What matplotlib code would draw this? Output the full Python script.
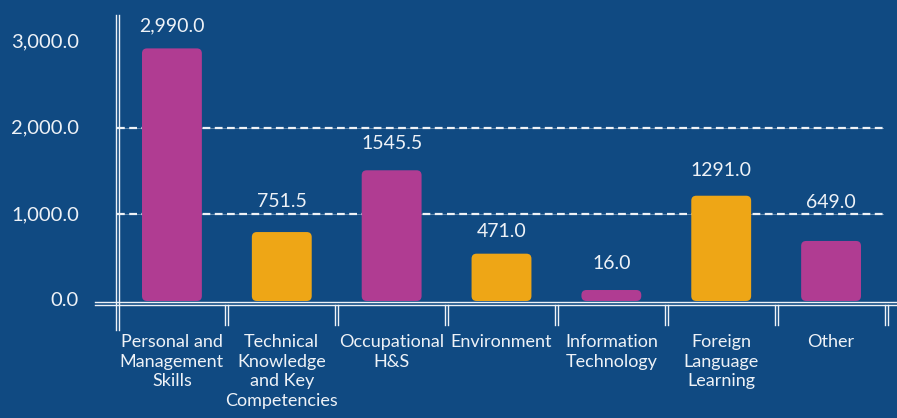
import matplotlib
matplotlib.use("Agg")
import matplotlib.pyplot as plt
from matplotlib.patches import FancyBboxPatch

plt.rcParams['font.family'] = ['Lato', 'DejaVu Sans']

categories = ["Personal and\nManagement\nSkills", "Technical\nKnowledge\nand Key\nCompetencies",
              "Occupational\nH&S", "Environment", "Information\nTechnology",
              "Foreign\nLanguage\nLearning", "Other"]
value_labels = ["2,990.0", "751.5", "1545.5", "471.0", "16.0", "1291.0", "649.0"]
bar_heights = [2920, 797, 1511, 547, 127, 1217, 694]  # as drawn in the picture
bar_colors = ["#b03c92", "#eea616", "#b03c92", "#eea616", "#b03c92", "#eea616", "#b03c92"]
yticks = [0, 1000, 2000, 3000]

bg = "#104a82"
fg = "#eef2f7"
W, H = 897, 418

# label gap above each bar (points), as in the picture
label_gap = [16, 22, 19.5, 16, 19, 18.5, 28]

fig = plt.figure(figsize=(W / 100, H / 100), dpi=100, facecolor=bg)
# axes box in pixels: x 117..886, y 15..301 (from top)
ax = fig.add_axes([117 / W, (H - 301) / H, (886 - 117) / W, (301 - 15) / H])
ax.set_facecolor(bg)
ymax = 3306
ax.set_xlim(-0.5, len(categories) - 0.5)
ax.set_ylim(0, ymax)
ax.axis("off")

pxx = 769 / len(categories)
pxy = 286 / ymax
r = 5
width = 0.545
for i, (h, c) in enumerate(zip(bar_heights, bar_colors)):
    ax.add_patch(FancyBboxPatch((i - width / 2, 0), width, h,
                                boxstyle="round,pad=0,rounding_size=%f" % (r / pxx),
                                mutation_aspect=pxx / pxy, fc=c, ec="none", zorder=2))
    ax.annotate(value_labels[i], (i, h), xytext=(0, label_gap[i]), textcoords="offset points",
                ha="center", va="center", color=fg, fontsize=14, zorder=4)

# gridlines
for y in yticks[1:3]:
    ax.plot([-0.5, 6.47], [y, y], color=fg, lw=0.7, alpha=0.35, zorder=1)
    ax.plot([-0.5, 6.47], [y, y], color=fg, lw=1.6, ls=(0, (3.5, 2)), zorder=1)


def px(x, y):
    return (x - 117) / 769, (301 - y) / 286


def line(x0, y0, x1, y1):
    (a, b), (c, d) = px(x0, y0), px(x1, y1)
    ax.plot([a, c], [b, d], color=fg, lw=1.0, transform=ax.transAxes, clip_on=False, zorder=5)


# double axis lines
line(116, 15, 116, 330)
line(119, 15, 119, 330)
line(95, 302, 897, 302)
line(95, 305, 897, 305)
for k in range(1, len(categories) + 1):
    bx = 117 + k * pxx
    line(bx - 1.5, 305, bx - 1.5, 325)
    line(bx + 1.5, 305, bx + 1.5, 325)

for y in yticks:
    ax.text(px(79, 0)[0], y, "{:,.1f}".format(y), transform=ax.get_yaxis_transform(),
            ha="right", va="center", color=fg, fontsize=14.5)

for i, lab in enumerate(categories):
    ax.text(i, px(0, 334)[1], lab, transform=ax.get_xaxis_transform(), ha="center", va="top",
            color=fg, fontsize=13, linespacing=1.27)

fig.savefig("out.png", dpi=100, facecolor=bg)
